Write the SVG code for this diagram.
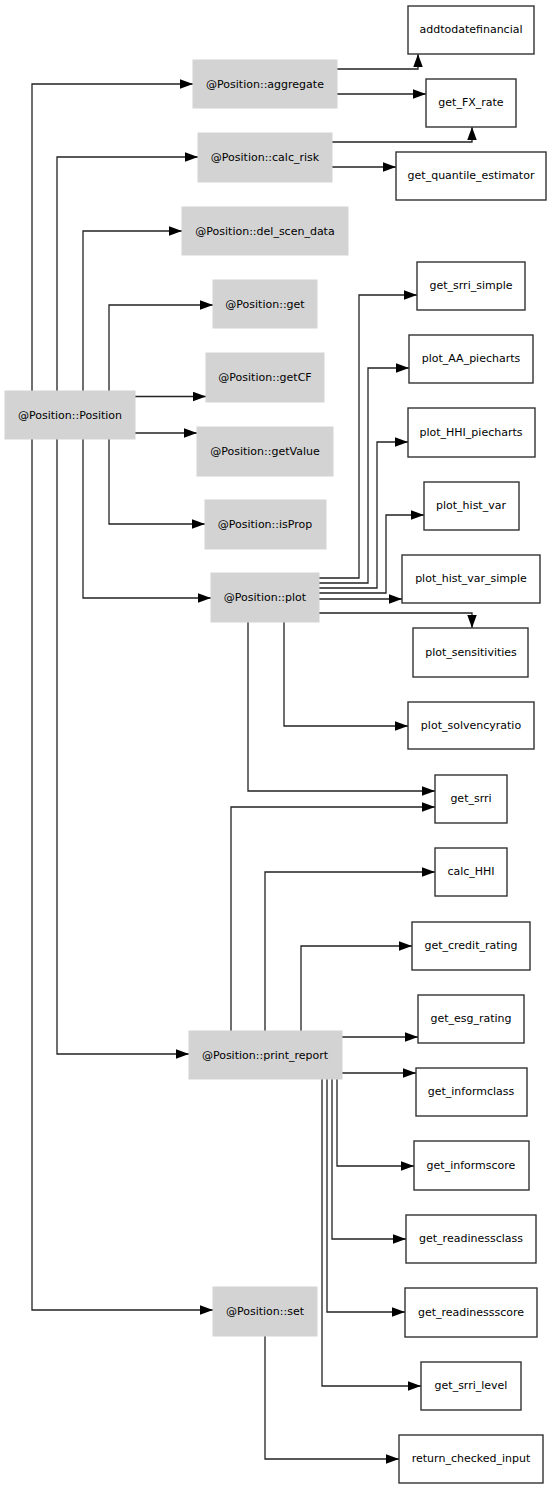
<svg xmlns="http://www.w3.org/2000/svg" width="552" height="1489" viewBox="0 0 552 1489">
<style>
.g rect{fill:#d3d3d3;stroke:#d3d3d3;stroke-width:1}
.w rect{fill:#ffffff;stroke:#333333;stroke-width:1.4}
text{font-family:"DejaVu Sans",sans-serif;font-size:11px;fill:#000;text-anchor:middle}
#edges polyline{fill:none;stroke:#222;stroke-width:1.3;marker-end:url(#arr)}
</style>
<defs>
<marker id="arr" markerUnits="userSpaceOnUse" markerWidth="14" markerHeight="10" refX="13" refY="4.75" orient="auto">
<path d="M0,0 L13,4.75 L0,9.5 z" fill="#000"/>
</marker>
</defs>
<rect width="552" height="1489" fill="#fff"/>
<g id="edges">
<polyline points="32,391 32,84 193,84"/>
<polyline points="57,391 57,157 198,157"/>
<polyline points="83,391 83,231 182,231"/>
<polyline points="109,391 109,305 213,305"/>
<polyline points="135,396.5 206,396.5"/>
<polyline points="135,433 197,433"/>
<polyline points="109,439 109,524 205,524"/>
<polyline points="83,439 83,598 211,598"/>
<polyline points="57,439 57,1054 189,1054"/>
<polyline points="32,439 32,1310 213,1310"/>
<polyline points="337,69 418,69 418,54"/>
<polyline points="337,94 426,94"/>
<polyline points="332,142 472,142 472,127"/>
<polyline points="332,167 396,167"/>
<polyline points="319,578 359,578 359,295 417,295"/>
<polyline points="319,583 368,583 368,368 409,368"/>
<polyline points="319,588 377,588 377,442 408,442"/>
<polyline points="319,593 386,593 386,515 424,515"/>
<polyline points="319,599 402,599"/>
<polyline points="319,613 472,613 472,628"/>
<polyline points="284,622 284,726 408,726"/>
<polyline points="248,622 248,791 435,791"/>
<polyline points="231,1031 231,807 435,807"/>
<polyline points="265,1031 265,872 435,872"/>
<polyline points="301,1031 301,946 412,946"/>
<polyline points="342,1037 418,1037"/>
<polyline points="342,1073 416,1073"/>
<polyline points="337,1079 337,1166 414,1166"/>
<polyline points="332,1079 332,1239 406,1239"/>
<polyline points="327,1079 327,1312 405,1312"/>
<polyline points="322,1079 322,1386 421,1386"/>
<polyline points="265,1336 265,1459 399,1459"/>
</g>
<g id="n_position" class="g"><rect x="5" y="391" width="130" height="48"/><text x="70" y="419">@Position::Position</text></g>
<g id="n_aggregate" class="g"><rect x="193" y="60" width="144" height="48"/><text x="265" y="88">@Position::aggregate</text></g>
<g id="n_calc_risk" class="g"><rect x="198" y="133" width="134" height="49"/><text x="265" y="161">@Position::calc_risk</text></g>
<g id="n_del_scen_data" class="g"><rect x="182" y="207" width="166" height="48"/><text x="265" y="235">@Position::del_scen_data</text></g>
<g id="n_get" class="g"><rect x="213" y="280" width="104" height="48"/><text x="265" y="308">@Position::get</text></g>
<g id="n_getCF" class="g"><rect x="206" y="353" width="118" height="49"/><text x="265" y="381">@Position::getCF</text></g>
<g id="n_getValue" class="g"><rect x="197" y="427" width="136" height="49"/><text x="265" y="455">@Position::getValue</text></g>
<g id="n_isProp" class="g"><rect x="205" y="500" width="121" height="49"/><text x="265" y="528">@Position::isProp</text></g>
<g id="n_plot" class="g"><rect x="211" y="573" width="108" height="49"/><text x="265" y="601">@Position::plot</text></g>
<g id="n_print_report" class="g"><rect x="189" y="1031" width="153" height="48"/><text x="265" y="1059">@Position::print_report</text></g>
<g id="n_set" class="g"><rect x="213" y="1287" width="104" height="49"/><text x="265" y="1315">@Position::set</text></g>
<g id="n_addtodatefinancial" class="w"><rect x="408" y="6" width="126" height="48"/><text x="471" y="33">addtodatefinancial</text></g>
<g id="n_get_FX_rate" class="w"><rect x="426" y="79" width="90" height="48"/><text x="471" y="106">get_FX_rate</text></g>
<g id="n_get_quantile_estimator" class="w"><rect x="396" y="152" width="150" height="48"/><text x="471" y="179">get_quantile_estimator</text></g>
<g id="n_get_srri_simple" class="w"><rect x="417" y="262" width="108" height="48"/><text x="471" y="289">get_srri_simple</text></g>
<g id="n_plot_AA_piecharts" class="w"><rect x="409" y="335" width="124" height="48"/><text x="471" y="362">plot_AA_piecharts</text></g>
<g id="n_plot_HHI_piecharts" class="w"><rect x="408" y="408" width="127" height="49"/><text x="471" y="436">plot_HHI_piecharts</text></g>
<g id="n_plot_hist_var" class="w"><rect x="424" y="482" width="95" height="48"/><text x="471" y="509">plot_hist_var</text></g>
<g id="n_plot_hist_var_simple" class="w"><rect x="402" y="555" width="138" height="48"/><text x="471" y="582">plot_hist_var_simple</text></g>
<g id="n_plot_sensitivities" class="w"><rect x="413" y="628" width="115" height="49"/><text x="471" y="656">plot_sensitivities</text></g>
<g id="n_plot_solvencyratio" class="w"><rect x="408" y="702" width="126" height="47"/><text x="471" y="729">plot_solvencyratio</text></g>
<g id="n_get_srri" class="w"><rect x="435" y="775" width="72" height="48"/><text x="471" y="802">get_srri</text></g>
<g id="n_calc_HHI" class="w"><rect x="435" y="848" width="72" height="48"/><text x="471" y="875">calc_HHI</text></g>
<g id="n_get_credit_rating" class="w"><rect x="412" y="922" width="118" height="48"/><text x="471" y="949">get_credit_rating</text></g>
<g id="n_get_esg_rating" class="w"><rect x="418" y="995" width="106" height="48"/><text x="471" y="1022">get_esg_rating</text></g>
<g id="n_get_informclass" class="w"><rect x="416" y="1068" width="111" height="48"/><text x="471" y="1095">get_informclass</text></g>
<g id="n_get_informscore" class="w"><rect x="414" y="1141" width="115" height="49"/><text x="471" y="1169">get_informscore</text></g>
<g id="n_get_readinessclass" class="w"><rect x="406" y="1215" width="130" height="48"/><text x="471" y="1242">get_readinessclass</text></g>
<g id="n_get_readinessscore" class="w"><rect x="405" y="1288" width="132" height="49"/><text x="471" y="1316">get_readinessscore</text></g>
<g id="n_get_srri_level" class="w"><rect x="421" y="1362" width="100" height="48"/><text x="471" y="1389">get_srri_level</text></g>
<g id="n_return_checked_input" class="w"><rect x="399" y="1435" width="144" height="48"/><text x="471" y="1462">return_checked_input</text></g>
</svg>
